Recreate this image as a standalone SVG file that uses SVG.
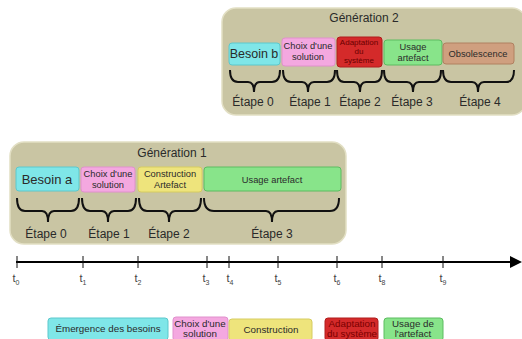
<svg xmlns="http://www.w3.org/2000/svg" width="522" height="339" viewBox="0 0 522 339">
<defs>
<style>
text{font-family:"Liberation Sans",Arial,sans-serif;fill:#2a2a2a;text-anchor:middle}
.panel{fill:#c9c5a3;stroke:#e2dfc4;stroke-width:1.5}
.box{stroke-width:1}
.cy{fill:#7fe6e8;stroke:#5cc8cc}
.pk{fill:#f4a8e0;stroke:#e090cc}
.ye{fill:#eee47c;stroke:#d6cc60}
.rd{fill:#d42a2a;stroke:#b01c1c}
.gr{fill:#88e48a;stroke:#5cbc60}
.br{fill:#cf9f7f;stroke:#b08060}
.brace{fill:none;stroke:#111;stroke-width:2}
.tick{stroke:#111;stroke-width:1}
.big{font-size:13px}
.et{font-size:12px}
.sm{font-size:9.3px}
.lg{font-size:9.8px}
.xs{font-size:8px;fill:#6a0000}
.ti{font-size:11px;fill:#444}
.sub{font-size:7px}
</style>
<marker id="arr" markerWidth="6" markerHeight="6" refX="1" refY="3" orient="auto" markerUnits="strokeWidth">
<path d="M0,0 L6,3 L0,6 z" fill="#000"/>
</marker>
</defs>

<g id="generation2">
<rect class="panel" x="222" y="8" width="304" height="107" rx="14"/>
<text x="364" y="22" class="et">Génération 2</text>
</g>
<g id="besoin-b"><rect class="box cy" x="229" y="43" width="51" height="22" rx="3"/><text x="254" y="58" style="font-size:12.5px">Besoin b</text></g>
<g id="choix2"><rect class="box pk" x="282" y="38" width="53" height="28" rx="3"/><text x="308" y="49" class="sm">Choix d'une</text><text x="308" y="60" class="sm">solution</text></g>
<g id="adaptation2"><rect class="box rd" x="337" y="37" width="45" height="30" rx="3"/><text x="359" y="45" class="xs">Adaptation</text><text x="359" y="54" class="xs">du</text><text x="359" y="63" class="xs">système</text></g>
<g id="usage2"><rect class="box gr" x="384" y="40" width="58" height="25" rx="3"/><text x="413" y="50" class="sm">Usage</text><text x="413" y="61" class="sm">artefact</text></g>
<g id="obsolescence"><rect class="box br" x="443" y="43" width="71" height="21" rx="3"/><text x="478" y="57" class="sm">Obsolescence</text></g>

<g id="generation1">
<rect class="panel" x="10" y="142" width="336" height="102" rx="14"/>
<text x="172" y="157" class="et">Génération 1</text>
</g>
<g id="besoin-a"><rect class="box cy" x="16" y="167" width="63" height="24" rx="3"/><text x="47" y="184" class="big">Besoin a</text></g>
<g id="choix1"><rect class="box pk" x="81" y="167" width="54" height="25" rx="3"/><text x="108" y="177" class="sm">Choix d'une</text><text x="108" y="188" class="sm">solution</text></g>
<g id="construction1"><rect class="box ye" x="138" y="167" width="64" height="25" rx="3"/><text x="170" y="177" class="sm">Construction</text><text x="170" y="188" class="sm">Artefact</text></g>
<g id="usage1"><rect class="box gr" x="204" y="167" width="137" height="24" rx="3"/><text x="272" y="183" class="sm">Usage  artefact</text></g>

<g id="braces">
<path class="brace" d="M230,70 Q230,82 238,82 L248,82 Q254,82 254,92 Q254,82 260,82 L272,82 Q280,82 280,70"/>
<path class="brace" d="M283,70 Q283,82 291,82 L302,82 Q308,82 308,92 Q308,82 314,82 L327,82 Q335,82 335,70"/>
<path class="brace" d="M337,70 Q337,82 344,82 L354,82 Q360,82 360,92 Q360,82 366,82 L375,82 Q382,82 382,70"/>
<path class="brace" d="M384,70 Q384,82 391,82 L407,82 Q413,82 413,92 Q413,82 419,82 L434,82 Q441,82 441,70"/>
<path class="brace" d="M443,70 Q443,82 451,82 L472,82 Q478,82 478,92 Q478,82 484,82 L506,82 Q514,82 514,70"/>
<path class="brace" d="M17,198 Q17,211 25,211 L42,211 Q48,211 48,222 Q48,211 54,211 L71,211 Q79,211 79,198"/>
<path class="brace" d="M82,198 Q82,211 90,211 L102,211 Q108,211 108,222 Q108,211 114,211 L128,211 Q136,211 136,198"/>
<path class="brace" d="M139,198 Q139,211 147,211 L163,211 Q169,211 169,222 Q169,211 175,211 L193,211 Q201,211 201,198"/>
<path class="brace" d="M204,198 Q204,211 214,211 L266,211 Q272,211 272,222 Q272,211 278,211 L330,211 Q339,211 339,198"/>
</g>
<g id="etapes">
<text x="253" y="106" class="et">Étape 0</text>
<text x="310" y="106" class="et">Étape 1</text>
<text x="360" y="106" class="et">Étape 2</text>
<text x="412" y="106" class="et">Étape 3</text>
<text x="480" y="106" class="et">Étape 4</text>
<text x="46" y="238" class="et">Étape 0</text>
<text x="109" y="238" class="et">Étape 1</text>
<text x="169" y="238" class="et">Étape 2</text>
<text x="272" y="238" class="et">Étape 3</text>
</g>

<g id="timeline">
<line x1="16" y1="262" x2="512" y2="262" stroke="#000" stroke-width="2" marker-end="url(#arr)"/>
<g class="tick">
<line x1="17" y1="256" x2="17" y2="268"/><line x1="83" y1="256" x2="83" y2="268"/><line x1="138" y1="256" x2="138" y2="268"/>
<line x1="207" y1="256" x2="207" y2="268"/><line x1="229" y1="256" x2="229" y2="268"/><line x1="278" y1="256" x2="278" y2="268"/>
<line x1="337" y1="256" x2="337" y2="268"/><line x1="382" y1="256" x2="382" y2="268"/><line x1="443" y1="256" x2="443" y2="268"/>
</g>
<text x="16" y="282" class="ti">t<tspan class="sub" dy="3">0</tspan></text>
<text x="83" y="282" class="ti">t<tspan class="sub" dy="3">1</tspan></text>
<text x="138" y="282" class="ti">t<tspan class="sub" dy="3">2</tspan></text>
<text x="206" y="282" class="ti">t<tspan class="sub" dy="3">3</tspan></text>
<text x="230" y="282" class="ti">t<tspan class="sub" dy="3">4</tspan></text>
<text x="278" y="282" class="ti">t<tspan class="sub" dy="3">5</tspan></text>
<text x="337" y="282" class="ti">t<tspan class="sub" dy="3">6</tspan></text>
<text x="382" y="282" class="ti">t<tspan class="sub" dy="3">8</tspan></text>
<text x="443" y="282" class="ti">t<tspan class="sub" dy="3">9</tspan></text>
</g>

<g id="legend">
<g id="leg-emergence"><rect class="box cy" x="48" y="318" width="120" height="22" rx="3"/><text x="108" y="332" class="lg">Émergence des besoins</text></g>
<g id="leg-choix"><rect class="box pk" x="173" y="317" width="55" height="24" rx="3"/><text x="200" y="327" class="lg">Choix d'une</text><text x="200" y="337" class="lg">solution</text></g>
<g id="leg-construction"><rect class="box ye" x="229" y="319" width="83" height="22" rx="3"/><text x="271" y="333" class="lg">Construction</text></g>
<g id="leg-adaptation"><rect class="box rd" x="325" y="318" width="53" height="23" rx="3"/><text x="352" y="327" class="lg" style="fill:#7a0000">Adaptation</text><text x="352" y="337" class="lg" style="fill:#7a0000">du système</text></g>
<g id="leg-usage"><rect class="box gr" x="384" y="318" width="59" height="23" rx="3"/><text x="413" y="327" class="lg">Usage de</text><text x="413" y="337" class="lg">l'artefact</text></g>
</g>
</svg>
